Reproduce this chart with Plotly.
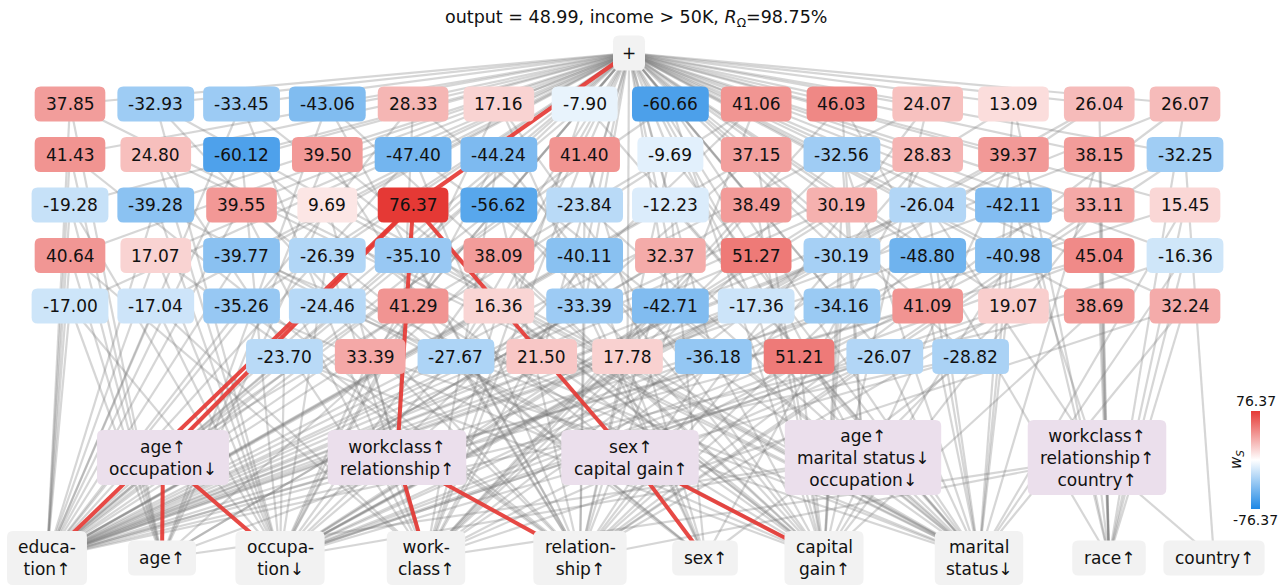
import plotly.graph_objects as go

# ---------------- data ----------------
TITLE = "output = 48.99, income > 50K, <i>R</i><sub>Ω</sub>=98.75%"
VMAX = 76.37

row1_vals = [37.85, -32.93, -33.45, -43.06, 28.33, 17.16, -7.90, -60.66, 41.06, 46.03, 24.07, 13.09, 26.04, 26.07]
row2_vals = [41.43, 24.80, -60.12, 39.50, -47.40, -44.24, 41.40, -9.69, 37.15, -32.56, 28.83, 39.37, 38.15, -32.25]
row3_vals = [-19.28, -39.28, 39.55, 9.69, 76.37, -56.62, -23.84, -12.23, 38.49, 30.19, -26.04, -42.11, 33.11, 15.45]
row4_vals = [40.64, 17.07, -39.77, -26.39, -35.10, 38.09, -40.11, 32.37, 51.27, -30.19, -48.80, -40.98, 45.04, -16.36]
row5_vals = [-17.00, -17.04, -35.26, -24.46, 41.29, 16.36, -33.39, -42.71, -17.36, -34.16, 41.09, 19.07, 38.69, 32.24]
row6_vals = [-23.70, 33.39, -27.67, 21.50, 17.78, -36.18, 51.21, -26.07, -28.82]

feature_keys = ['ed', 'ag', 'oc', 'wc', 're', 'sx', 'cg', 'ms', 'ra', 'co']
feature_labels = ["educa-<br>tion↑", "age↑", "occupa-<br>tion↓", "work-<br>class↑", "relation-<br>ship↑",
                  "sex↑", "capital<br>gain↑", "marital<br>status↓", "race↑", "country↑"]

group_keys = ['A', 'B', 'C', 'D', 'E']
group_labels = ["age↑<br>occupation↓", "workclass↑<br>relationship↑", "sex↑<br>capital gain↑",
                "age↑<br>marital status↓<br>occupation↓", "workclass↑<br>relationship↑<br>country↑"]
group_members = [['ag', 'oc'], ['wc', 're'], ['sx', 'cg'], ['ag', 'ms', 'oc'], ['wc', 're', 'co', 'ra']]

# which features / groups each term is linked to
row1_links = [['ed', 'ag', 'ms'], ['oc', 'ms', 're'], ['ed', 'wc', 'cg'], ['ag', 're', 'cg'], ['ed', 'B', 'ms'],
              ['oc', 'sx', 'cg'], ['ed', 'ms', 'wc'], ['A', 'cg', 'ms'], ['ed', 're', 'oc'], ['wc', 'D', 'ra'],
              ['ed', 'cg', 're'], ['ms', 'ra', 'oc'], ['oc', 'ra', 'wc'], ['re', 'ra', 'ed']]
row2_links = [['ed', 'ag', 're'], ['oc', 'wc', 'ms'], ['ed', 'C', 'oc'], ['ag', 'cg', 're'], ['ed', 're', 'ms'],
              ['oc', 'cg', 'wc'], ['ed', 'wc', 'sx'], ['A', 'ms', 're'], ['ed', 'oc', 'cg'], ['wc', 'ms', 'D'],
              ['ed', 're', 'sx'], ['cg', 'ra', 'oc'], ['ed', 'ra', 'ms'], ['oc', 'co', 're']]
row3_links = [['ed', 'ag', 'oc'], ['oc', 'cg', 'ed'], ['ed', 'sx', 'wc'], ['wc', 'ms', 'ag'], ['ed', 'A', 'B', 'C'],
              ['ed', 'cg', 're'], ['oc', 're', 'ms'], ['ed', 'ms', 'sx'], ['ag', 'wc', 'cg'], ['ed', 'cg', 'oc'],
              ['oc', 'ms', 'E'], ['ed', 'E', 'ms'], ['re', 'ra', 'cg'], ['ed', 'ms', 'ra']]
row4_links = [['ed', 'ag', 'wc'], ['oc', 're', 'ed'], ['ed', 'cg', 'ms'], ['wc', 'sx', 'oc'], ['ed', 'ms', 're'],
              ['oc', 'cg', 'ag'], ['ed', 'wc', 'sx'], ['ag', 're', 'ms'], ['ed', 'D', 'wc'], ['oc', 'cg', 'ed'],
              ['ed', 're', 'ms'], ['wc', 'ms', 'cg'], ['ed', 'ra', 'oc'], ['oc', 'ms', 'ra']]
row5_links = [['ed', 'ag', 'oc'], ['oc', 'wc', 'ed'], ['ed', 'cg', 're'], ['re', 'ms', 'ed'], ['ed', 'oc', 'cg'],
              ['wc', 'cg', 'ed'], ['ed', 're', 'sx'], ['oc', 'ms', 'wc'], ['ed', 'wc', 'cg'], ['ag', 'cg', 're'],
              ['ed', 'ms', 'oc'], ['oc', 're', 'D'], ['ed', 'ra', 'cg'], ['wc', 'ms', 'ra']]
row6_links = [['ed', 'cg', 'oc'], ['oc', 'ms', 'wc'], ['ed', 're', 'sx'], ['wc', 'cg', 'ed'], ['ed', 'ms', 're'],
              ['oc', 're', 'cg'], ['ed', 'cg', 'ms'], ['wc', 'ms', 'oc'], ['ed', 'oc', 'sx']]

HIGHLIGHT = (2, 4)  # row, column of the selected term (76.37)

# ---------------- layout constants ----------------
W, H = 1279, 588
FONT = "DejaVu Sans"
FS = 17
ROOT = (629, 53)
ROW_Y = [104, 154.5, 205, 255.5, 306, 356.5]
COL_X0, COL_DX = 70, 85.77
FEATURE_X = [47, 162, 280, 426, 580, 705, 824, 979, 1109, 1214]
FEATURE_Y = 558
GROUP_X = [163, 397, 630, 863, 1097]
GROUP_Y = 457.5
CB_X, CB_Y, CB_LEN = 1251, 460, 98

CHAR_W = {'a': .613, 'b': .635, 'c': .550, 'd': .635, 'e': .615, 'g': .635, 'h': .634, 'i': .278, 'k': .579,
          'l': .278, 'm': .974, 'n': .634, 'o': .612, 'p': .635, 'r': .411, 's': .521, 't': .392, 'u': .634,
          'w': .818, 'x': .592, 'y': .592, ' ': .318, '-': .361, '.': .318, '↑': .838, '↓': .838, '+': .838}


def text_w(s):
    return max(sum(CHAR_W.get(c, .636) for c in ln) for ln in s.split('<br>')) * FS


def lerp(c1, c2, t):
    return tuple(round(a + (b - a) * t) for a, b in zip(c1, c2))


RED, BLUE, WHITE = (229, 57, 53), (30, 136, 229), (255, 255, 255)


def val_color(v):
    t = min(abs(v) / VMAX, 1)
    c = lerp(WHITE, RED if v > 0 else BLUE, t)
    return 'rgb(%d,%d,%d)' % c


def rrect(cx, cy, w, h, r=6):
    x0, x1, y0, y1 = cx - w / 2, cx + w / 2, cy - h / 2, cy + h / 2
    return (f"M{x0+r},{y0} L{x1-r},{y0} Q{x1},{y0} {x1},{y0+r} L{x1},{y1-r} Q{x1},{y1} {x1-r},{y1} "
            f"L{x0+r},{y1} Q{x0},{y1} {x0},{y1-r} L{x0},{y0+r} Q{x0},{y0} {x0+r},{y0} Z")


rows = [row1_vals, row2_vals, row3_vals, row4_vals, row5_vals, row6_vals]
links = [row1_links, row2_links, row3_links, row4_links, row5_links, row6_links]

pos = {}
for k, x in zip(feature_keys, FEATURE_X):
    pos[k] = (x, FEATURE_Y)
for k, x in zip(group_keys, GROUP_X):
    pos[k] = (x, GROUP_Y)

terms = []  # (x, y, value, links, highlighted)
for ri, (vals, lks) in enumerate(zip(rows, links)):
    offset = (14 - len(vals)) / 2
    for ci, (v, lk) in enumerate(zip(vals, lks)):
        x = COL_X0 + COL_DX * (ci + offset)
        terms.append((x, ROW_Y[ri], v, lk, (ri, ci) == HIGHLIGHT))

gx, gy, rx, ry = [], [], [], []


def add(seg_x, seg_y, a, b):
    seg_x += [a[0], b[0], None]
    seg_y += [a[1], b[1], None]


for x, y, v, lk, hl in terms:
    if hl:
        add(rx, ry, ROOT, (x, y))
    else:
        add(gx, gy, ROOT, (x, y))
    for k in lk:
        if hl:
            add(rx, ry, (x, y), pos[k])
        else:
            add(gx, gy, (x, y), pos[k])

hl_groups = set(terms[[t[4] for t in terms].index(True)][3])
for k, mem in zip(group_keys, group_members):
    for m in mem:
        if k in hl_groups:
            add(rx, ry, pos[k], pos[m])
        else:
            add(gx, gy, pos[k], pos[m])

fig = go.Figure()
fig.add_trace(go.Scatter(x=gx, y=gy, mode='lines', line=dict(color='rgba(120,120,120,0.3)', width=2.2),
                         hoverinfo='skip'))
fig.add_trace(go.Scatter(x=rx, y=ry, mode='lines', line=dict(color='rgba(229,57,53,0.92)', width=4),
                         hoverinfo='skip'))
# invisible markers carrying the colour scale
fig.add_trace(go.Scatter(
    x=[t[0] for t in terms], y=[t[1] for t in terms], mode='markers', hoverinfo='skip',
    marker=dict(size=1, color=[t[2] for t in terms], cmin=-VMAX, cmax=VMAX,
                colorscale=[[0, 'rgb(30,136,229)'], [0.5, 'rgb(255,255,255)'], [1, 'rgb(229,57,53)']],
                showscale=True,
                colorbar=dict(x=CB_X / W, xanchor='left', y=1 - CB_Y / H, yanchor='middle',
                              thickness=9, lenmode='pixels', len=CB_LEN, outlinewidth=0,
                              showticklabels=False, ticks='', xpad=0, ypad=0))))

shapes, annots = [], []


def node(cx, cy, label, fill, w, h):
    shapes.append(dict(type='path', path=rrect(cx, cy, w, h), xref='x', yref='y',
                       fillcolor=fill, line=dict(width=0), layer='above'))
    annots.append(dict(x=cx, y=cy, xref='x', yref='y', text=label, showarrow=False,
                       font=dict(family=FONT, size=FS, color='#111111')))


for x, y, v, lk, hl in terms:
    lab = f"{v:.2f}"
    node(x, y, lab, val_color(v), text_w(lab) + 22, 35)

node(ROOT[0], ROOT[1], "+", 'rgb(242,242,242)', 32, 35)

for k, lab in zip(feature_keys, feature_labels):
    nl = lab.count('<br>') + 1
    node(pos[k][0], pos[k][1], lab, 'rgb(242,242,242)', text_w(lab) + 22, 35 if nl == 1 else 54)

for k, lab in zip(group_keys, group_labels):
    nl = lab.count('<br>') + 1
    node(pos[k][0], pos[k][1], lab, 'rgb(235,223,236)', text_w(lab) + 24, 55 if nl == 2 else 75)

cbc = CB_X + 4.5
annots.append(dict(x=636, y=18, xref='x', yref='y', text=TITLE, showarrow=False,
                   font=dict(family=FONT, size=17.5, color='#111111')))
annots.append(dict(x=cbc, y=CB_Y - CB_LEN / 2 - 10, xref='x', yref='y', text=f"{VMAX:.2f}", showarrow=False,
                   font=dict(family=FONT, size=14, color='#111111')))
annots.append(dict(x=cbc, y=CB_Y + CB_LEN / 2 + 11, xref='x', yref='y', text=f"{-VMAX:.2f}", showarrow=False,
                   font=dict(family=FONT, size=14, color='#111111')))
annots.append(dict(x=1236, y=CB_Y, xref='x', yref='y', text="<i>w<sub>S</sub></i>", showarrow=False,
                   textangle=-90, font=dict(family=FONT, size=15, color='#111111')))

fig.update_layout(
    width=W, height=H, margin=dict(l=0, r=0, t=0, b=0),
    paper_bgcolor='white', plot_bgcolor='white', showlegend=False,
    xaxis=dict(range=[0, W], visible=False, fixedrange=True),
    yaxis=dict(range=[H, 0], visible=False, fixedrange=True),
    shapes=shapes, annotations=annots,
)
fig.write_html("out.html", config={'displayModeBar': False},
               post_script="document.body.style.margin='0';")
